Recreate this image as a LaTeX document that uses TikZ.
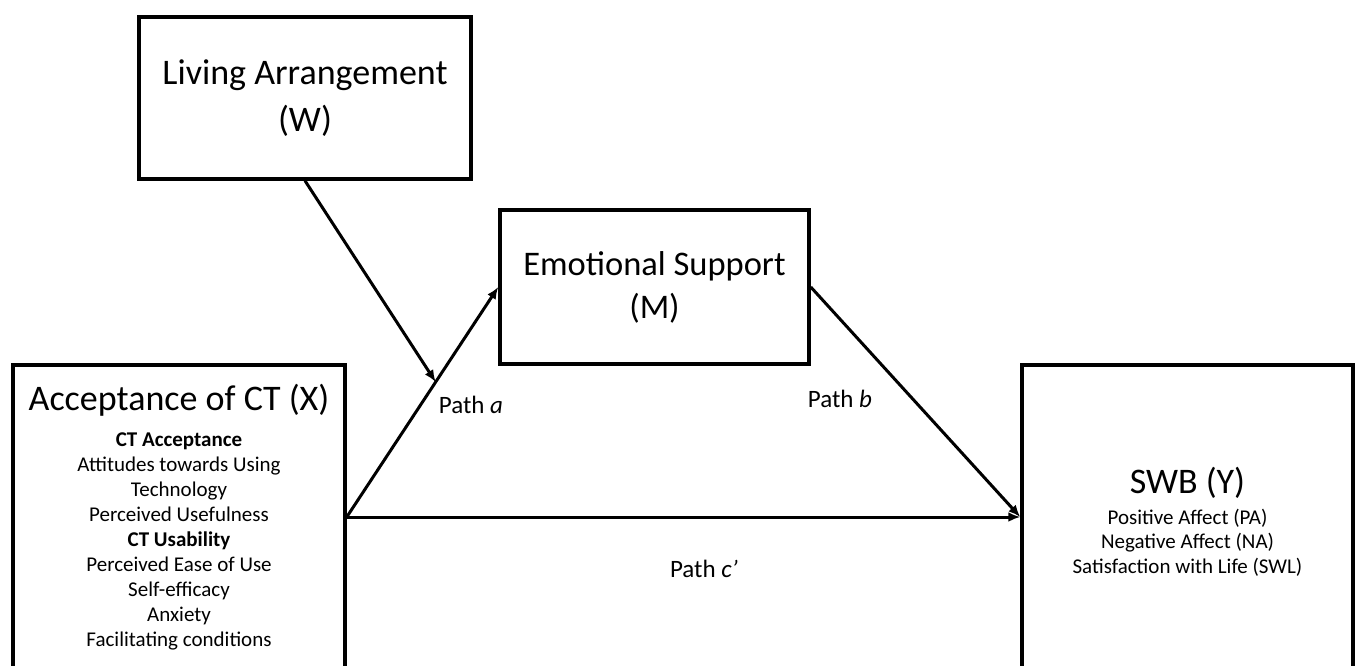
\documentclass[tikz,border=0pt]{standalone}
\usepackage{fontspec}
\setmainfont{Carlito}
\usetikzlibrary{arrows.meta}
\setlength\parindent{0pt}
\begin{document}
\begin{tikzpicture}[x=1pt,y=-1pt,
  box/.style={draw, line width=3.5pt, rectangle, inner sep=0pt},
  conn/.style={line width=3pt, -{Latex[length=12pt,width=10pt]}},
  lbl/.style={font=\fontsize{25}{30}\selectfont, anchor=base, inner sep=0pt},
  big/.style={font=\fontsize{36}{44}\selectfont, align=center}]
\useasboundingbox (0,0) rectangle (1357,666);
\clip (0,0) rectangle (1357,666);
\node[box,big,font=\fontsize{36}{47}\selectfont,minimum width=332pt,minimum height=162pt] (W) at (305,98) {Living Arrangement\\(W)};
\node[box,big,font=\fontsize{34.5}{43}\selectfont,minimum width=309pt,minimum height=154pt] (M) at (654.5,287) {Emotional Support\\(M)};
\node[box,minimum width=332pt,minimum height=304pt,text width=324pt,align=flush center] (X) at (179,517)
  {\fontsize{36}{40}\selectfont Acceptance of CT (X)\par
   \fontsize{21}{25}\selectfont\vspace{11pt}\textbf{CT Acceptance}\\Attitudes towards Using\\Technology\\Perceived Usefulness\\\textbf{CT Usability}\\Perceived Ease of Use\\Self-efficacy\\Anxiety\\Facilitating conditions\par};
\node[box,minimum width=331pt,minimum height=304pt,text width=320pt,align=flush center] (Y) at (1187.5,517)
  {\fontsize{36}{40}\selectfont\rule{0pt}{36pt}SWB (Y)\par
   \fontsize{21}{24.5}\selectfont\vspace{6pt}Positive Affect (PA)\\Negative Affect (NA)\\Satisfaction with Life (SWL)\par};
\draw[conn] (X.east) -- (M.west);
\draw[conn] (M.east) -- (Y.west);
\draw[conn] (X.east) -- (Y.west);
\path (X.east) -- (M.west) coordinate[pos=0.587] (mod);
\draw[conn] (W.south) -- (mod);
\node[lbl] (la) at (471,413) {Path \textit{a}};
\node[lbl] (lb) at (840,407) {Path \textit{b}};
\node[lbl] (lc) at (704,577) {Path \textit{c'}};
\end{tikzpicture}
\end{document}
